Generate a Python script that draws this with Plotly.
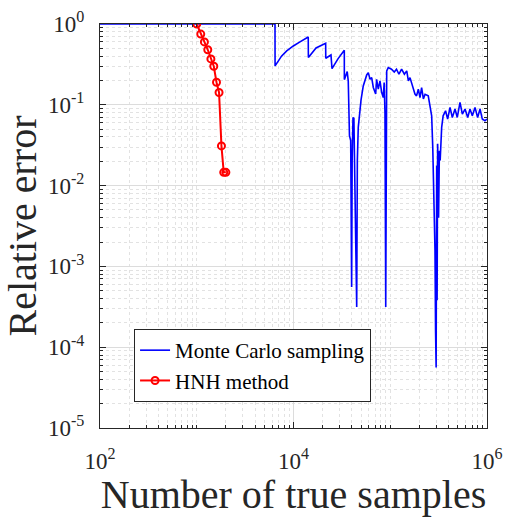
import plotly.graph_objects as go

# Monte Carlo sampling
mc_x = [100, 6440, 6450, 6970, 7550, 8510, 9960, 11670, 14200, 14250, 17100, 21500, 21550,
        24400, 25000, 28800, 33500, 33550, 35900, 36800, 36900, 37500, 37900, 39000, 39900,
        40400, 41200, 42100, 43200, 45000, 45700, 46700, 49900, 52600, 57100, 59300, 61800,
        64300, 66800, 70700, 72300, 75200, 78300, 81600, 84700, 86500, 88200, 89800, 91900,
        95400, 103000, 110000, 116000, 123000, 131000, 140000, 148000, 154000, 160000, 173000,
        180000, 187000, 195000, 203000, 211000, 220000, 229000, 247000, 257000, 268000, 275000,
        283000, 290000, 294000, 298000, 302000, 305000, 309000, 316000, 322000, 328000, 340000,
        352000, 373000, 392000, 415000, 438000, 467000, 493000, 526000, 556000, 593000, 632000,
        667000, 705000, 752000, 800000, 847000, 894000, 953000, 1000000]
mc_y = [1.0, 1.0, 0.303, 0.349, 0.403, 0.464, 0.535, 0.60, 0.69, 0.384, 0.505, 0.578, 0.377,
        0.414, 0.28, 0.37, 0.473, 0.205, 0.258, 0.198, 0.142, 0.0697, 0.0414, 0.036, 5.55e-4,
        0.0205, 0.0697, 0.068, 0.0065, 3.15e-4, 0.0205, 0.0525, 0.115, 0.171, 0.234, 0.25, 0.207,
        0.217, 0.164, 0.136, 0.207, 0.156, 0.198, 0.142, 0.123, 0.189, 0.0804, 3.15e-4, 0.263,
        0.289, 0.276, 0.255, 0.276, 0.239, 0.276, 0.239, 0.263, 0.198, 0.217, 0.156,
        0.136, 0.129, 0.156, 0.123, 0.163, 0.118, 0.135, 0.129, 0.102, 0.073, 0.0297,
        0.0065, 1.6e-3, 1.6e-4, 5.6e-5, 0.0177, 3.8e-4, 0.033, 0.004, 0.027, 0.0204, 0.0525,
        0.073, 0.0843, 0.0666, 0.0928, 0.0697, 0.0886, 0.0697, 0.107, 0.0767, 0.0886, 0.0697,
        0.0886, 0.073, 0.0928, 0.0697, 0.0886, 0.0666, 0.0636, 0.0666]

# HNH method
hnh_x = [1000, 1100, 1200, 1300, 1400, 1500, 1600, 1700, 1800, 1900, 2000]
hnh_y = [1.0, 0.75, 0.60, 0.48, 0.37, 0.30, 0.19, 0.142, 0.031, 0.0146, 0.0146]

x_tick_vals = [1e2, 1e4, 1e6]
x_tick_text = ["10<sup>2</sup>", "10<sup>4</sup>", "10<sup>6</sup>"]
y_tick_vals = [1e-5, 1e-4, 1e-3, 1e-2, 1e-1, 1e0]
y_tick_text = ["10<sup>-5</sup>", "10<sup>-4</sup>", "10<sup>-3</sup>",
               "10<sup>-2</sup>", "10<sup>-1</sup>", "10<sup>0</sup>"]

x_minor = [m * 10 ** e for e in range(2, 6) for m in range(1, 10) if not (m == 1 and e % 2 == 0)]
y_minor = [m * 10.0 ** e for e in range(-5, 0) for m in range(2, 10)]

FONT = "Liberation Serif"
AX = "#262626"

fig = go.Figure()
fig.add_trace(go.Scatter(x=mc_x, y=mc_y, mode="lines", name="Monte Carlo sampling",
                         line=dict(color="#0000ff", width=1.6), cliponaxis=False))
fig.add_trace(go.Scatter(x=hnh_x, y=hnh_y, mode="lines+markers", name="HNH method",
                         line=dict(color="#ff0000", width=2),
                         marker=dict(symbol="circle-open", size=7, color="#ff0000",
                                     line=dict(width=2, color="#ff0000"))))

common = dict(type="log", showline=True, linecolor=AX, linewidth=1, mirror="ticks",
              ticks="inside", ticklen=6, tickcolor=AX, showgrid=True, gridcolor="#dcdcdc",
              gridwidth=1, zeroline=False, automargin=False,
              tickfont=dict(family=FONT, size=23, color=AX))

fig.update_xaxes(**common, range=[2, 6], tickmode="array", tickvals=x_tick_vals,
                 ticktext=x_tick_text, ticklabelstandoff=12,
                 minor=dict(tickmode="array", tickvals=x_minor, ticks="inside", ticklen=3,
                            tickcolor=AX, showgrid=True, gridcolor="#e2e2e2", griddash="dot"),
                 title=dict(text="Number of true samples", standoff=10,
                            font=dict(family=FONT, size=40, color=AX)))
fig.update_yaxes(**common, range=[-5, 0], tickmode="array", tickvals=y_tick_vals,
                 ticktext=y_tick_text, ticklabelstandoff=10,
                 minor=dict(tickmode="array", tickvals=y_minor, ticks="inside", ticklen=3,
                            tickcolor=AX, showgrid=True, gridcolor="#e2e2e2", griddash="dot"),
                 title=dict(text="Relative error", standoff=8,
                            font=dict(family=FONT, size=40, color=AX)))

fig.update_layout(
    width=507, height=517,
    margin=dict(l=100, r=20, t=24, b=89),
    paper_bgcolor="white", plot_bgcolor="white",
    showlegend=True,
    legend=dict(x=0.088, y=0.245, xanchor="left", yanchor="top",
                bgcolor="white", bordercolor=AX, borderwidth=1,
                font=dict(family=FONT, size=21, color="black"),
                tracegroupgap=0, itemwidth=30),
)

fig.write_html("out.html", config={"displayModeBar": False},
               post_script="document.body.style.margin='0';document.body.style.overflow='hidden';")
